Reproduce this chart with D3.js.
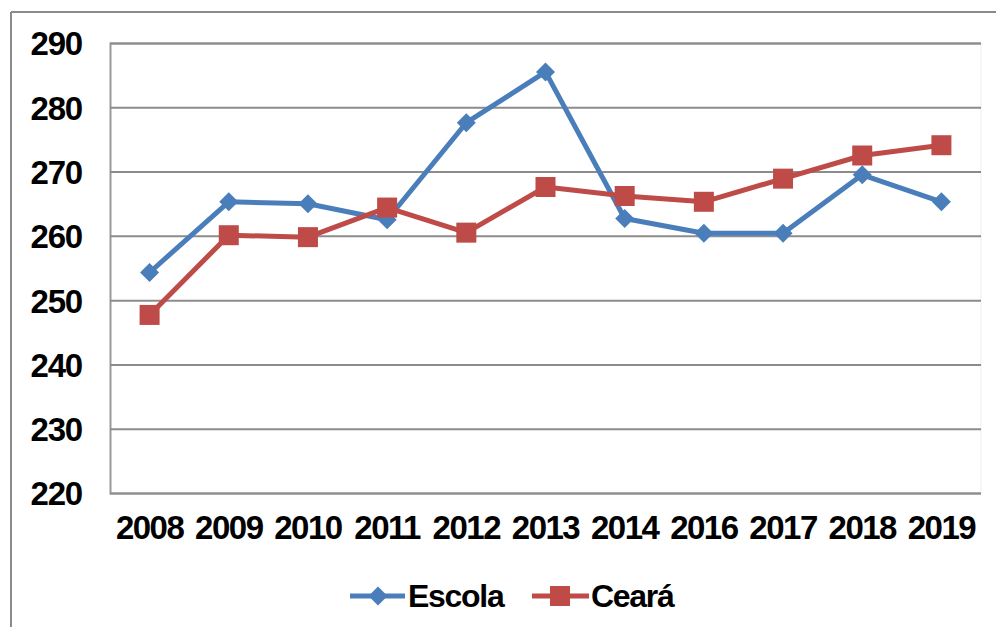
<!DOCTYPE html>
<html>
<head>
<meta charset="utf-8">
<script src="https://cdn.jsdelivr.net/npm/d3@7"></script>
<style>
  html, body { margin: 0; padding: 0; background: #fff; }
  svg { display: block; }
  text { font-family: "Liberation Sans", Arial, sans-serif; font-weight: bold; fill: #000; }
</style>
</head>
<body>
<script>
const years = ["2008","2009","2010","2011","2012","2013","2014","2016","2017","2018","2019"];
const escola = [254.3, 265.3, 265.0, 262.5, 277.6, 285.5, 262.7, 260.4, 260.4, 269.5, 265.3];
const ceara  = [247.7, 260.1, 259.8, 264.4, 260.5, 267.6, 266.2, 265.3, 268.9, 272.5, 274.1];
const yTicks = [220, 230, 240, 250, 260, 270, 280, 290];
const seriesNames = ["Escola", "Ceará"];
const seriesColors = ["#4A7EBB", "#BE4B48"];

const W = 996, H = 627;
const svg = d3.select("body").append("svg").attr("width", W).attr("height", H);

// outer border (top + left)
svg.append("line").attr("x1", 11).attr("x2", W).attr("y1", 12).attr("y2", 12)
  .attr("stroke", "#8a8a8a").attr("stroke-width", 2);
svg.append("line").attr("x1", 11).attr("x2", 11).attr("y1", 12).attr("y2", H)
  .attr("stroke", "#8a8a8a").attr("stroke-width", 2);

const pL = 110, pR = 981, pT = 43, pB = 493;
const x = d3.scaleBand().domain(years).range([pL, pR]).padding(0);
const cx = d => x(d) + x.bandwidth() / 2;
const y = d3.scaleLinear().domain([220, 290]).range([pB, pT]);

// faint right edge of plot area
svg.append("line").attr("x1", pR).attr("x2", pR).attr("y1", pT).attr("y2", pB)
  .attr("stroke", "#eeeeee").attr("stroke-width", 1);

// gridlines
const yAxis = d3.axisLeft(y).tickValues(yTicks).tickSize(-(pR - pL)).tickFormat(d3.format("d")).tickPadding(28);
const gy = svg.append("g").attr("transform", `translate(${pL},0)`).call(yAxis);
gy.select(".domain").attr("stroke", "#9a9a9a").attr("stroke-width", 2);
gy.selectAll(".tick line").attr("stroke", "#8c8c8c").attr("stroke-width", 2);
gy.selectAll(".tick text").attr("font-size", 33).attr("font-family", "Liberation Sans, Arial, sans-serif")
  .attr("font-weight", "bold").attr("fill", "#000").attr("letter-spacing", -1.2).attr("dy", "0.36em");

// x axis labels
const xAxis = d3.axisBottom(x).tickSize(0).tickPadding(23);
const gx = svg.append("g").attr("transform", `translate(0,${pB})`).call(xAxis);
gx.select(".domain").remove();
gx.selectAll(".tick text").attr("font-size", 33).attr("font-family", "Liberation Sans, Arial, sans-serif")
  .attr("font-weight", "bold").attr("fill", "#000").attr("letter-spacing", -1.5);

const line = d3.line().x(d => cx(d.year)).y(d => y(d.v));
const dataE = years.map((yr, i) => ({year: yr, v: escola[i]}));
const dataC = years.map((yr, i) => ({year: yr, v: ceara[i]}));

// Escola
svg.append("path").datum(dataE).attr("d", line).attr("fill", "none")
  .attr("stroke", seriesColors[0]).attr("stroke-width", 5).attr("stroke-linejoin", "round");
// Ceará
svg.append("path").datum(dataC).attr("d", line).attr("fill", "none")
  .attr("stroke", seriesColors[1]).attr("stroke-width", 5).attr("stroke-linejoin", "round");

const diamond = s => `M0,${-s}L${s},0L0,${s}L${-s},0Z`;
svg.append("g").selectAll("path").data(dataE).join("path")
  .attr("d", diamond(9.5))
  .attr("transform", d => `translate(${cx(d.year)},${y(d.v)})`)
  .attr("fill", seriesColors[0]);
svg.append("g").selectAll("rect").data(dataC).join("rect")
  .attr("x", d => cx(d.year) - 10).attr("y", d => y(d.v) - 10)
  .attr("width", 20).attr("height", 20)
  .attr("fill", seriesColors[1]);

// legend
const lg = svg.append("g");
const ly = 596;
lg.append("line").attr("x1", 350).attr("x2", 405).attr("y1", ly).attr("y2", ly)
  .attr("stroke", seriesColors[0]).attr("stroke-width", 5);
lg.append("path").attr("d", diamond(9.5)).attr("transform", `translate(378,${ly})`).attr("fill", seriesColors[0]);
lg.append("text").attr("x", 408).attr("y", ly).attr("dy", "0.34em").attr("font-size", 32).attr("letter-spacing", -1.3).text(seriesNames[0]);

lg.append("line").attr("x1", 532).attr("x2", 589).attr("y1", ly).attr("y2", ly)
  .attr("stroke", seriesColors[1]).attr("stroke-width", 5);
lg.append("rect").attr("x", 550).attr("y", ly - 10).attr("width", 20).attr("height", 20).attr("fill", seriesColors[1]);
lg.append("text").attr("x", 591).attr("y", ly).attr("dy", "0.34em").attr("font-size", 32).attr("letter-spacing", -1.3).text(seriesNames[1]);
</script>
</body>
</html>
